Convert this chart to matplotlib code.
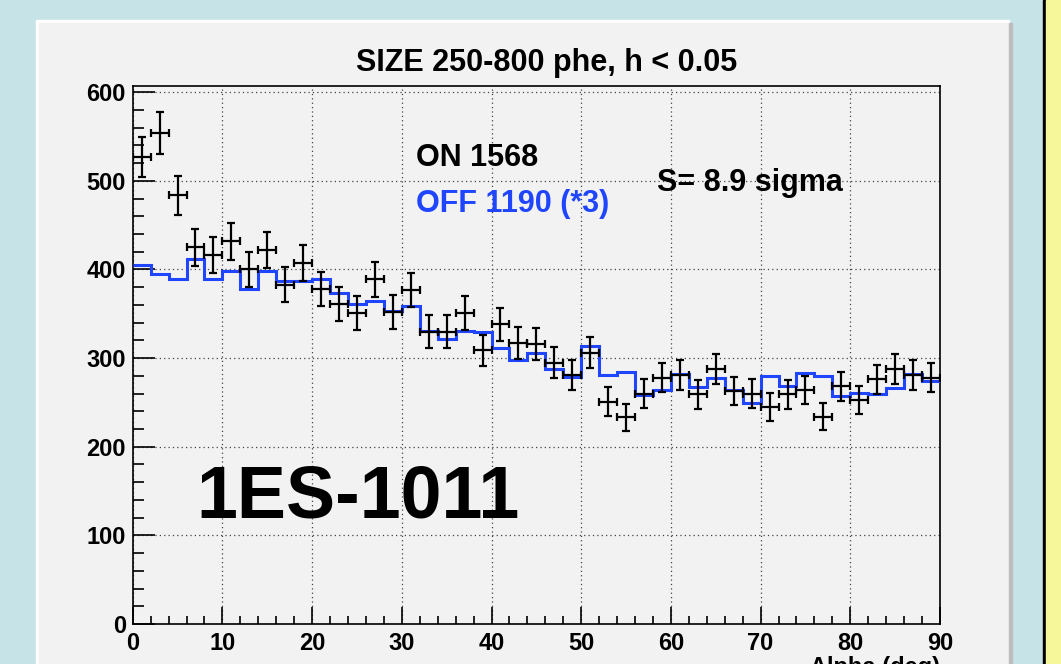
import matplotlib
matplotlib.use("Agg")
import matplotlib.pyplot as plt
from matplotlib.patches import Rectangle
from matplotlib.ticker import MultipleLocator
import numpy as np

# Alpha histogram, 2 deg bins from 0 to 90
bin_edges = np.arange(0, 92, 2)
on_counts = [527, 554, 484, 425, 416, 432, 400, 422, 383, 407,
             378, 361, 351, 389, 352, 377, 330, 330, 351, 309,
             338, 317, 316, 295, 281, 306, 251, 233, 260, 278,
             281, 259, 288, 263, 260, 245, 259, 264, 234, 268,
             253, 276, 288, 281, 278]
off_counts = [405, 395, 389, 412, 389, 398, 378, 398, 387, 387,
              389, 374, 361, 364, 353, 359, 331, 321, 331, 330,
              311, 298, 306, 288, 279, 314, 281, 284, 258, 264,
              282, 267, 277, 264, 249, 280, 268, 283, 280, 257,
              261, 260, 266, 282, 274]

title = "SIZE 250-800 phe, h < 0.05"
on_label = "ON 1568"
off_label = "OFF 1190 (*3)"
signif_label = "S= 8.9 sigma"
source_label = "1ES-1011"

W, H = 1061, 664
plt.rcParams['font.family'] = ['Liberation Sans', 'DejaVu Sans']
plt.rcParams['font.weight'] = 'bold'

fig = plt.figure(figsize=(W / 100, H / 100), dpi=100, facecolor='#c6e4e8')


def px(x, y):
    return x / W, 1 - y / H


def rect(x0, y0, x1, y1, color):
    fx, fy = px(x0, y1)
    fig.patches.append(Rectangle((fx, fy), (x1 - x0) / W, (y1 - y0) / H,
                                 transform=fig.transFigure, color=color, zorder=-5))


# slide decoration: canvas panel and yellow side strip
rect(36, 20, 1009, 664, 'white')
rect(39, 23, 1009, 664, '#f2f2f2')
rect(1009, 23, 1012, 664, '#bdbdbd')
rect(1043, 0, 1046, 664, 'black')
rect(1046, 0, 1061, 664, '#f6f69b')

ax = fig.add_axes([132.7 / W, 1 - 624 / H, (940 - 132.7) / W, (624 - 86) / H])
ax.set_facecolor('#f2f2f2')

centers = (bin_edges[:-1] + bin_edges[1:]) / 2
on = np.array(on_counts)
ax.stairs(off_counts, bin_edges, baseline=None, color='#1f45ff', linewidth=2.2, zorder=3)
ax.errorbar(centers, on, xerr=1, yerr=np.sqrt(on), fmt='none', ecolor='black',
            elinewidth=1.6, capsize=3, capthick=1.6, zorder=4)

ax.set_xlim(0, 90)
ax.set_ylim(0, 607)
ax.xaxis.set_major_locator(MultipleLocator(10))
ax.xaxis.set_minor_locator(MultipleLocator(2))
ax.yaxis.set_major_locator(MultipleLocator(100))
ax.yaxis.set_minor_locator(MultipleLocator(20))
ax.tick_params(which='both', direction='in', top=False, right=False, width=1.2,
               labelsize=17, colors='black')
ax.tick_params(axis='y', which='major', length=16, pad=5)
ax.tick_params(axis='y', which='minor', length=8)
ax.tick_params(axis='x', which='major', length=12, pad=6)
ax.tick_params(axis='x', which='minor', length=6)
for lab in ax.get_xticklabels() + ax.get_yticklabels():
    lab.set_fontweight('bold')
ax.grid(True, which='major', color='#444444', linestyle=(0, (1, 2.5)), linewidth=0.9)
for s in ax.spines.values():
    s.set_linewidth(1.2)

fig.text(*px(547, 71), title, ha='center', va='baseline', fontsize=22, fontweight='bold')
fig.text(*px(416, 166), on_label, ha='left', va='baseline', fontsize=22, fontweight='bold')
fig.text(*px(416, 212), off_label, ha='left', va='baseline', fontsize=22,
         fontweight='bold', color='#1f45ff')
fig.text(*px(657, 191), signif_label, ha='left', va='baseline', fontsize=22, fontweight='bold')
fig.text(*px(196, 518), source_label, ha='left', va='baseline', fontsize=53, fontweight='bold')
# axis title sits partly below the slide edge, as in the original
fig.text(*px(940, 674), "Alpha (deg)", ha='right', va='baseline', fontsize=17, fontweight='bold')

fig.savefig('out.png', dpi=100, facecolor=fig.get_facecolor())
